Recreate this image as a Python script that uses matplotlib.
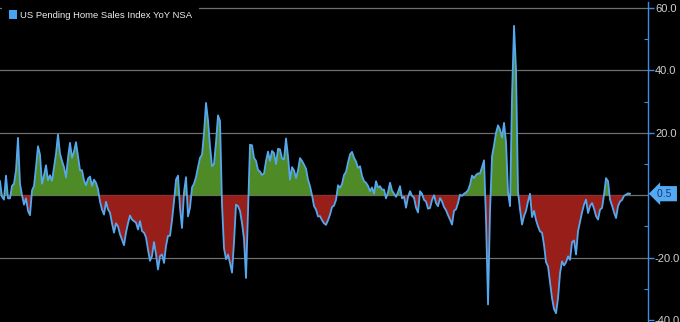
import matplotlib.pyplot as plt
import matplotlib.transforms as mtransforms
from matplotlib.patches import Patch
import numpy as np

# US Pending Home Sales Index, YoY % (NSA)
yoy_a = [4.5, -0.5, -1.4, 6.3, -1, -1, 3, 3.7, 8, 18.4,
         3.7, 0, -3, -1, -5, -6.4, 1.5, 3, 9, 15.7,
         13, 3.7, 6.4, 9.6, 4.8, 6.4, 4.6, 9, 13.3, 19.5,
         13.3, 11, 9, 5.7, 12, 16.8, 12, 14, 17, 12.5,
         8, 8, 4.8, 3.2, 5.3, 6, 3, 5, 4, 2,
         -2, -4.6, -6.2, -2.1, -4.5]
yoy_b = [-5.6, -9, -12, -9, -10, -12.5, -14.2, -16, -12, -9,
         -6.5, -7.8, -8.3, -8.8, -11, -8.3, -11.5, -12, -13.5, -17.5,
         -21, -19.5, -15, -19, -23.8, -19.5, -19, -21.7, -16.3, -13,
         -13, -8, -2, 5, 6.3, -4, -10.5, 1, 5.8, -6.8,
         -4, 2.5, 3.7, 5.8, 9, 12, 13, 20, 29.6, 24,
         15.7, 9.3]
yoy_c = [10, 17, 25.6, 23.8, -3, -17, -20.5, -19, -21.7, -24.8,
         -15, -3, -3.5, -5, -9, -14, -26.5, -5, 16.2, 16,
         12, 11, 8.1, 7.6, 6.5, 7, 11, 14, 11, 14.2,
         13.5, 10, 14.9, 14.7, 11.8, 11.5, 18.2, 12.4, 5, 9,
         8, 5.5, 8, 11.9, 11, 9.8, 8.5, 5, 2.9, 0,
         -3.5, -4.6, -6.8]
yoy_d = [-6.7, -8, -9, -9.5, -8, -6.2, -3.8, -3.3, -1.5, 3.2,
         2.4, 3.6, 6.5, 7.5, 10.5, 13.1, 13.9, 12, 10.8, 8.8,
         9.3, 6.2, 4.5, 4, 3, 1.3, 2.5, 0.5, 4.5, 2.5,
         2.9, 1.8, 1.8, -1, 1, 4, 1.5, 0.5, -0.5, 1,
         2.9, -1, -0.5, -4, -0.5, 1.3, -0.2, -0.8, -4, -5.5,
         1.3, 0.5, -1.5]
yoy_e = [-2, -4.3, -4.1, -1.5, 0, -2.5, -3.5, -0.9, -2, -3.8,
         -4.8, -6.4, -7.8, -9.4, -5, -4.5, -2.5, 0.2, -0.2, 0.5,
         0.9, 1.6, 3.4, 6.3, 5.5, 6.5, 7, 7, 9, 11.2,
         -8, -35, -5, 12.5, 16, 20, 22.4, 21, 18.5, 23.2,
         17, 1, -3.5, 32, 54.3, 40, 1, -4.6, -9.4, -6.7]
yoy_f = [-5, -2, 0.5, -7, -5, -8, -10, -11.6, -12, -16,
         -21.5, -22.8, -28, -33, -36.5, -37.8, -33, -25, -21.2, -22.5,
         -21.5, -19.6, -20.7, -15, -14.5, -19, -11.5, -8.5, -5.5, -3,
         -1.4, -5.7, -3.5, -2.5, -4.3, -6.7, -7.8, -4.6, -4.1, 0.2,
         5.5, 4.5, -1.4, -3.3, -5.5, -7.3, -3.5, -2, -1.5, -0.2,
         0.2, 0.6, 0.5]

yoy = np.array(yoy_a + yoy_b + yoy_c + yoy_d + yoy_e + yoy_f)
last_value = 0.5

major_ticks = [-40, -20, 20, 40, 60]
major_labels = ['-40.0', '-20.0', '20.0', '40.0', '60.0']
minor_ticks = [-30, -10, 10, 30, 50]
legend_label = 'US Pending Home Sales Index YoY NSA'

blue = '#56a8ee'
green = '#4e8a25'
red = '#981e1a'
grid_c = '#6f6f6f'

fig = plt.figure(figsize=(6.8, 3.22), dpi=100, facecolor='black')
ax = fig.add_axes([0, 0.0012, 0.953, 0.9932])
ax.set_facecolor('black')

x = np.arange(len(yoy))
for g in [60, 40, 20, 0, -20]:
    ax.axhline(g, color=grid_c, lw=0.9, zorder=0)

ax.fill_between(x, yoy, 0, where=yoy >= 0, interpolate=True, color=green, lw=0, zorder=1)
ax.fill_between(x, yoy, 0, where=yoy <= 0, interpolate=True, color=red, lw=0, zorder=1)
ax.plot(x, yoy, color=blue, lw=1.3, zorder=2)

ax.set_xlim(0, (len(yoy) - 1) * 648 / 630)
ax.set_ylim(-40.5, 62)

for s in ['top', 'left', 'bottom']:
    ax.spines[s].set_visible(False)
ax.spines['right'].set_color('#3a8ee6')
ax.spines['right'].set_linewidth(1.0)

ax.set_xticks([])
ax.yaxis.tick_right()
ax.set_yticks(major_ticks)
ax.set_yticklabels(major_labels)
ax.set_yticks(minor_ticks, minor=True)
ax.tick_params(axis='y', which='major', direction='out', length=4, width=1,
               color='#3a8ee6', labelcolor='#d0d0d0', labelsize=8, pad=1)
ax.tick_params(axis='y', which='minor', direction='in', length=3, width=0.8,
               color='#3a8ee6')
for lab in ax.get_yticklabels():
    lab.set_fontfamily('Liberation Sans')

# last value tag
trans = mtransforms.blended_transform_factory(ax.transAxes, ax.transData)
ax.text(1.014, last_value, '0.5 ', transform=trans, ha='left', va='center',
        fontsize=7.5, color='#0d3a7a', family='Liberation Sans',
        bbox=dict(boxstyle='larrow,pad=0.25', fc='#55a8f2', ec='none'),
        clip_on=False, zorder=5)

leg = ax.legend(handles=[Patch(facecolor='#4aa3f0', edgecolor='none', label=legend_label)],
                loc='upper left', bbox_to_anchor=(0.0, 1.0), frameon=True,
                facecolor='black', edgecolor='none', framealpha=1,
                prop={'family': 'Liberation Sans', 'size': 6.8},
                handlelength=0.9, handleheight=1.0, handletextpad=0.3,
                borderpad=0.7, borderaxespad=0.2)
for t in leg.get_texts():
    t.set_color('#eeeeee')
leg.set_zorder(6)

fig.savefig('out.png', dpi=100, facecolor='black')
